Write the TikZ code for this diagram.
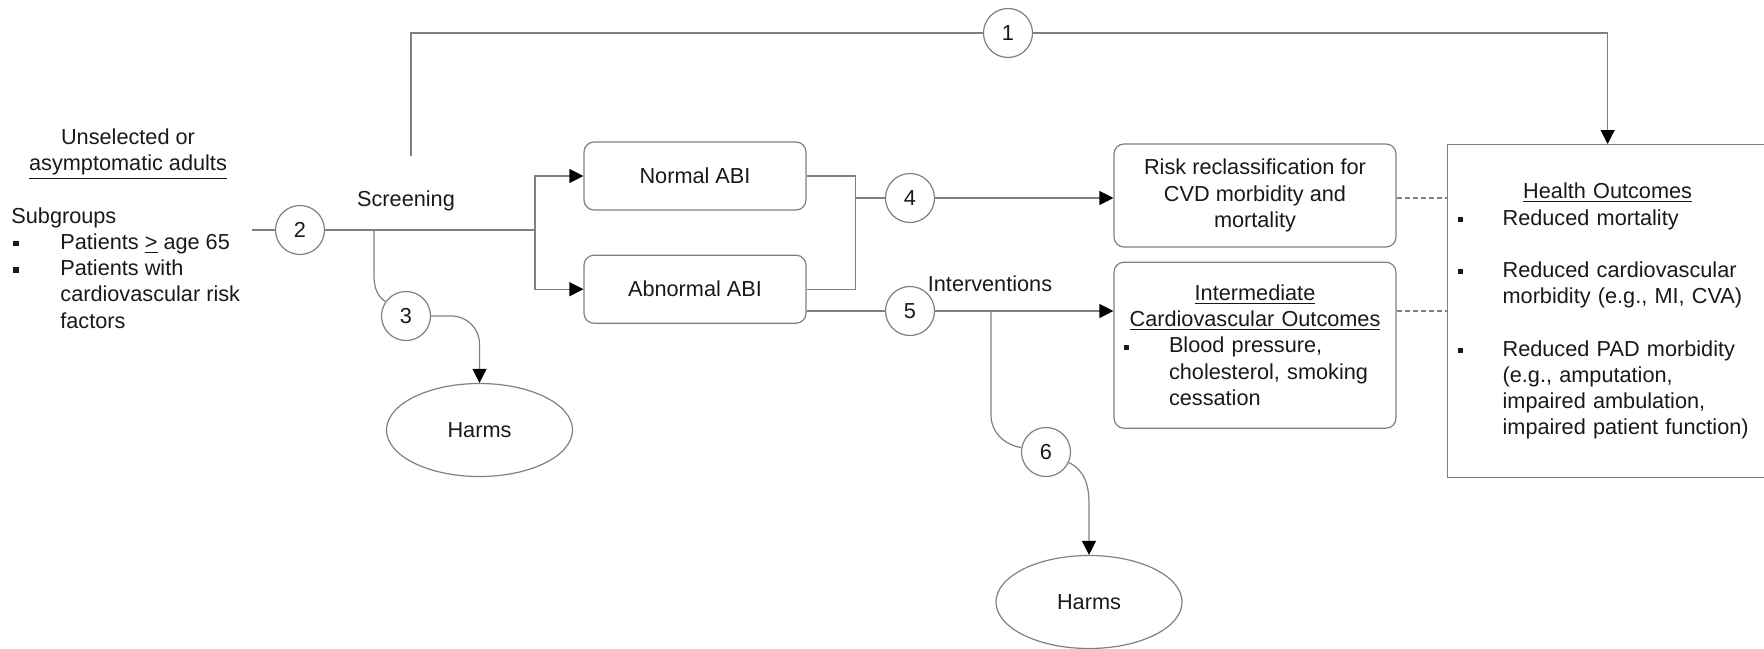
\documentclass[tikz,border=0pt]{standalone}
\usepackage{fontspec}
\setmainfont{Liberation Sans}
\usetikzlibrary{arrows.meta,positioning,shapes.geometric,calc}
\newcommand{\sqbul}[1][22.5pt]{\makebox[#1][l]{\rule[1.6pt]{2.6pt}{2.6pt}}}
\newcommand{\bulind}[1][22.5pt]{\hspace*{#1}}

\begin{document}
\begin{tikzpicture}[x=0.5pt, y=0.5pt,
  every node/.style={font=\fontsize{10.85}{13.1}\selectfont, text=black!90, align=center},
  wire/.style={draw=black!50, line width=0.6pt},
  arrow/.style={wire, -{Triangle[length=7pt,width=7pt,color=black]}},
  dashline/.style={wire, dash pattern=on 2.5pt off 1.5pt},
  box/.style={draw=black!50, line width=0.6pt, rounded corners=5pt, minimum width=141pt, inner sep=5pt},
  abi/.style={box, minimum width=111pt, minimum height=34pt},
  num/.style={circle, draw=black!50, line width=0.6pt, minimum size=24.5pt, inner sep=0pt},
  harm/.style={ellipse, draw=black!50, line width=0.6pt, minimum width=93pt, minimum height=46.5pt},
  txt/.style={inner sep=0pt}]
\useasboundingbox (0,0) rectangle (1764,-648);
% population and screening
\node[txt] (popn) at (128,-154) {Unselected or\\\underline{asymptomatic adults}};
\node[txt, anchor=west, align=left] (subgr) at (11,-268) {Subgroups\\\hspace*{1pt}\sqbul[23.5pt]Patients \underline{>} age 65\\\hspace*{1pt}\sqbul[23.5pt]Patients with\\\bulind[24.5pt]cardiovascular risk\\\bulind[24.5pt]factors};
\coordinate (pstart) at (252,-230);
\node[num] (c2) at (300,-230) {2};
\node[txt] (scr) at (406,-201) {Screening};
\coordinate (split) at (535,-230);
\coordinate (b3) at (374,-230);
\node[abi] (normal) at (695,-176) {Normal ABI};
\node[abi, below=22pt of normal] (abnormal) {Abnormal ABI};
\node[num] (c3) at (406,-316) {3};
\node[harm] (harm1) at (479.5,-430) {Harms};
% outcomes
\node[box, minimum height=51.5pt] (risk) at (1255,-195.5) {Risk reclassification for\\CVD morbidity and\\mortality};
\node[box, minimum height=83pt, text width=131pt, align=left, below=7pt of risk] (inter) {\makebox[131pt]{\underline{Intermediate}}\\\makebox[131pt]{\underline{Cardiovascular Outcomes}}\\\sqbul Blood pressure,\\\bulind cholesterol, smoking\\\bulind cessation};
\node[draw=black!50, line width=0.6pt, minimum height=166.5pt, text width=150pt, inner sep=5pt, align=left, anchor=north west] (health) at (1447,-144) {\makebox[150pt]{\underline{Health Outcomes}}\\\sqbul Reduced mortality\\[13.1pt]\sqbul Reduced cardiovascular\\\bulind morbidity (e.g., MI, CVA)\\[13.1pt]\sqbul Reduced PAD morbidity\\\bulind (e.g., amputation,\\\bulind impaired ambulation,\\\bulind impaired patient function)};
\node[num] (c1) at (1008,-33) {1};
\coordinate (top) at (411,-156);
\node[num] (c4) at (910,-198) {4};
\node[num] (c5) at (910,-311) {5};
\coordinate (join) at ([xshift=24.5pt]normal.east);
\node[txt] (intv) at (990,-284) {Interventions};
\coordinate (b6) at (991,-311);
\node[num] (c6) at (1046,-452) {6};
\node[harm] (harm2) at (1089,-602) {Harms};
% connectors
\draw[wire] (top) |- (c1);
\draw[arrow] (c1) -| (health.north);
\draw[wire] (pstart) -- (c2);
\draw[wire] (c2) -- (split);
\draw[arrow] (split) |- (normal.west);
\draw[arrow] (split) |- (abnormal.west);
\draw[wire] (b3) -- ++(0,-45) to[out=-90,in=145] (c3);
\draw[arrow, rounded corners=14pt] (c3) -| (harm1.north);
\draw[wire] (normal.east) -- (join) |- (abnormal.east);
\draw[wire] (c4 -| join) -- (c4);
\draw[arrow] (c4) -- (c4 -| risk.west);
\draw[wire] (c5 -| abnormal.east) -- (c5);
\draw[arrow] (c5) -- (c5 -| inter.west);
\draw[wire] (b6) -- ++(0,-104) to[out=-90,in=170] (c6);
\draw[arrow] (c6) to[out=-25,in=90] ([yshift=25.5pt]harm2.north) -- (harm2.north);
\draw[dashline] (c4 -| risk.east) -- (c4 -| health.west);
\draw[dashline] (c5 -| inter.east) -- (c5 -| health.west);
\end{tikzpicture}
\end{document}
